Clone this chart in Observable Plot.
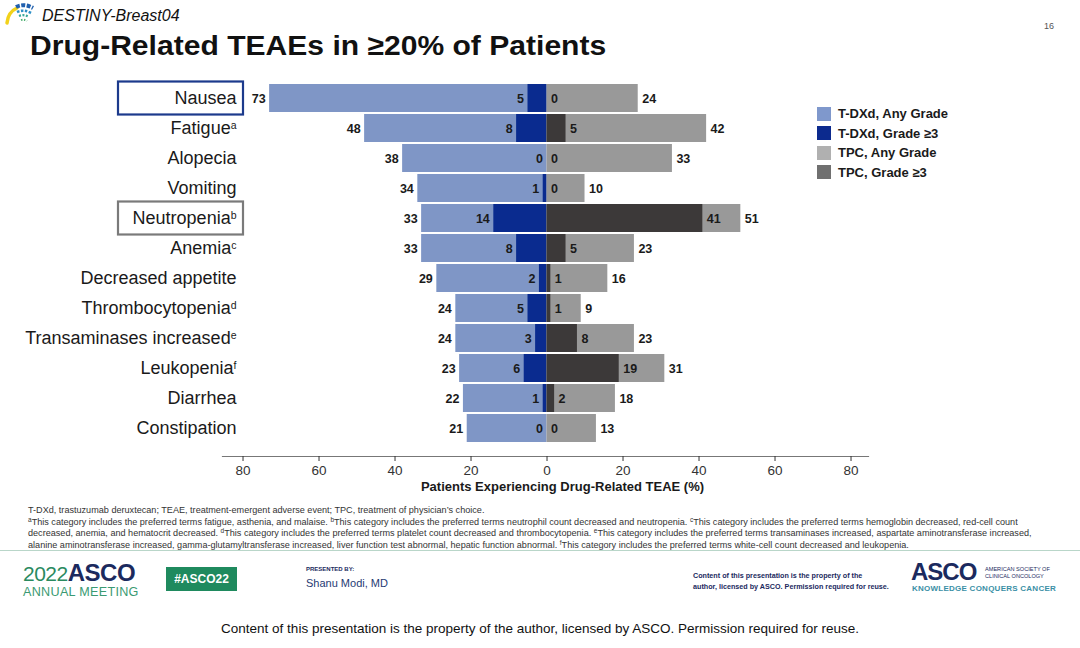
<!DOCTYPE html>
<html><head><meta charset="utf-8">
<script src="https://cdn.jsdelivr.net/npm/d3@7"></script>
<script src="https://cdn.jsdelivr.net/npm/@observablehq/plot@0.6"></script>
<style>
body{margin:0;background:#fff;font-family:"Liberation Sans",Arial,sans-serif;}
#page{position:relative;width:1080px;height:648px;overflow:hidden;background:#fff;}
.abs{position:absolute;white-space:nowrap;line-height:1;}
#chart{position:absolute;left:0;top:70px;}
.fn{position:absolute;left:28px;white-space:nowrap;font-size:9.1px;color:#333;line-height:1;}
.fn sup{font-size:6.5px;vertical-align:3px;line-height:0;}
.lg{position:absolute;left:817px;display:flex;align-items:center;font-weight:bold;font-size:13px;color:#1a1a1a;}
.lg span.sw{display:inline-block;width:14px;height:14px;margin-right:7px;}
</style></head><body><div id="page">

<svg class="abs" style="left:4px;top:3px" width="34" height="22" viewBox="0 0 34 22">
  <path d="M3 20 Q4 9 13 5" stroke="#f2d21b" stroke-width="3.5" fill="none" stroke-linecap="round"/>
  <path d="M12 4 Q20 0 29 5" stroke="#1f5fae" stroke-width="4" fill="none" stroke-dasharray="4 1.5"/>
  <path d="M13 9 Q20 6 27 10" stroke="#2d8fc7" stroke-width="2.6" fill="none" stroke-dasharray="2.5 1.5"/>
  <path d="M15 13 Q20 11 25 14" stroke="#37a89a" stroke-width="2.2" fill="none" stroke-dasharray="2 1.5"/>
  <path d="M17 17 Q20 16 23 18" stroke="#4bb071" stroke-width="2" fill="none" stroke-dasharray="1.5 1.5"/>
</svg>
<div class="abs" style="left:42px;top:8px;font-size:16px;font-style:italic;color:#111;">DESTINY-Breast04</div>
<div class="abs" style="left:30px;top:31px;font-size:28.5px;font-weight:bold;color:#111;transform:scaleX(1.055);transform-origin:0 0;">Drug-Related TEAEs in ≥20% of Patients</div>
<div class="abs" style="left:1044px;top:22px;font-size:9px;color:#555;">16</div>

<div id="chart"></div>

<div class="lg" style="top:106px"><span class="sw" style="background:#7f98cc"></span>T-DXd, Any Grade</div>
<div class="lg" style="top:125.5px"><span class="sw" style="background:#0c2a8e"></span>T-DXd, Grade ≥3</div>
<div class="lg" style="top:145px"><span class="sw" style="background:#b0b0b0"></span>TPC, Any Grade</div>
<div class="lg" style="top:164.5px"><span class="sw" style="background:#707070"></span>TPC, Grade ≥3</div>

<div class="fn" style="top:505.5px">T-DXd, trastuzumab deruxtecan; TEAE, treatment-emergent adverse event; TPC, treatment of physician’s choice.</div>
<div class="fn" style="top:517.5px"><sup>a</sup>This category includes the preferred terms fatigue, asthenia, and malaise. <sup>b</sup>This category includes the preferred terms neutrophil count decreased and neutropenia. <sup>c</sup>This category includes the preferred terms hemoglobin decreased, red-cell count</div>
<div class="fn" style="top:529px">decreased, anemia, and hematocrit decreased. <sup>d</sup>This category includes the preferred terms platelet count decreased and thrombocytopenia. <sup>e</sup>This category includes the preferred terms transaminases increased, aspartate aminotransferase increased,</div>
<div class="fn" style="top:540.5px">alanine aminotransferase increased, gamma-glutamyltransferase increased, liver function test abnormal, hepatic function abnormal. <sup>f</sup>This category includes the preferred terms white-cell count decreased and leukopenia.</div>

<div class="abs" style="left:0;top:549.5px;width:1080px;height:1.5px;background:#b9d6c9;"></div>

<div class="abs" style="left:23px;top:561px;line-height:24px;height:24px;"><span style="color:#2a8a5f;letter-spacing:-0.5px;font-size:21px">2022</span><span style="color:#1b2a5e;font-weight:bold;letter-spacing:-0.5px;font-size:24px">ASCO</span></div>
<div class="abs" style="left:23px;top:586px;font-size:12.6px;color:#3a9a72;letter-spacing:0.3px">ANNUAL MEETING</div>
<div class="abs" style="left:166px;top:567px;width:71px;height:24px;background:#1f8a5e;color:#fff;font-weight:bold;font-size:12px;display:flex;align-items:center;justify-content:center;">#ASCO22</div>
<div class="abs" style="left:306px;top:566px;font-size:6px;font-weight:bold;color:#1b2a5e;">PRESENTED BY:</div>
<div class="abs" style="left:306px;top:578px;font-size:11px;color:#1f3b73;">Shanu Modi, MD</div>
<div class="abs" style="left:693px;top:571px;font-size:7.2px;font-weight:bold;color:#1b2a5e;line-height:10.5px;">Content of this presentation is the property of the<br>author, licensed by ASCO. Permission required for reuse.</div>
<div class="abs" style="left:911px;top:560px;font-size:24px;font-weight:bold;color:#1b2a5e;letter-spacing:-1px;">ASCO</div>
<div class="abs" style="left:985px;top:566px;font-size:5.6px;color:#1b2a5e;line-height:7px;">AMERICAN SOCIETY OF<br>CLINICAL ONCOLOGY</div>
<div class="abs" style="left:912px;top:585px;font-size:8px;font-weight:bold;color:#3a8fa5;letter-spacing:0.25px;">KNOWLEDGE CONQUERS CANCER</div>

<div class="abs" style="left:0;width:1080px;text-align:center;top:622px;font-size:13.5px;color:#111;">Content of this presentation is the property of the author, licensed by ASCO. Permission required for reuse.</div>

</div>
<script>
const categories = ["Nausea","Fatigue","Alopecia","Vomiting","Neutropenia","Anemia","Decreased appetite","Thrombocytopenia","Transaminases increased","Leukopenia","Diarrhea","Constipation"];
const footnoteMarks = ["","a","","","b","c","","d","e","f","",""];
const tdxdAny = [73,48,38,34,33,33,29,24,24,23,22,21];
const tdxdG3  = [5,8,0,1,14,8,2,5,3,6,1,0];
const tpcAny  = [24,42,33,10,51,23,16,9,23,31,18,13];
const tpcG3   = [0,5,0,0,41,5,1,1,8,19,2,0];
const xTicks  = [-80,-60,-40,-20,0,20,40,60,80];
const highlighted = ["Nausea","Neutropenia"];
const highlightColors = ["#1c3a8c","#7a7a7a"];
const axisTitle = "Patients Experiencing Drug-Related TEAE (%)";

const rows = categories.map((c,i)=>({cat:c, tdxdAny:tdxdAny[i], tdxdG3:tdxdG3[i], tpcAny:tpcAny[i], tpcG3:tpcG3[i]}));
const boxes = highlighted.map((c,i)=>({cat:c, color:highlightColors[i]}));

const lab = {fontWeight:"bold", fontSize:12.5, fill:"#1a1a1a"};
const chart = Plot.plot({
  width:1080, height:430,
  marginLeft:222, marginRight:212, marginTop:9.75, marginBottom:44,
  x:{domain:[-85.4,84.6]},
  y:{domain:categories, range:[9.75,376.25], padding:0.07},
  style:{fontFamily:"Liberation Sans, Arial, sans-serif", background:"transparent", color:"#1a1a1a"},
  marks:[
    Plot.barX(rows,{y:"cat", x:d=>-d.tdxdAny, fill:"#7f96c6"}),
    Plot.barX(rows,{y:"cat", x:d=>-d.tdxdG3, fill:"#0a2b8f"}),
    Plot.barX(rows,{y:"cat", x:"tpcAny", fill:"#999999"}),
    Plot.barX(rows,{y:"cat", x:"tpcG3", fill:"#3c3939"}),
    Plot.text(rows,{y:"cat", x:d=>-d.tdxdAny, text:"tdxdAny", textAnchor:"end", dx:-4, ...lab}),
    Plot.text(rows,{y:"cat", x:d=>-d.tdxdG3, text:"tdxdG3", textAnchor:"end", dx:-4, ...lab}),
    Plot.text(rows,{y:"cat", x:"tpcG3", text:"tpcG3", textAnchor:"start", dx:4, ...lab}),
    Plot.text(rows,{y:"cat", x:"tpcAny", text:"tpcAny", textAnchor:"start", dx:4, ...lab}),
    Plot.cell(boxes,{y:"cat", fill:"white", fillOpacity:0, stroke:"color", strokeWidth:2.2, insetLeft:-104, insetRight:625, insetTop:-2.5, insetBottom:-2.5}),
    Plot.frame({anchor:"bottom", stroke:"#777", strokeWidth:1.2}),
    Plot.axisX({ticks:xTicks, tickFormat:d=>Math.abs(d), tickSize:5, tickPadding:4, fontSize:13.5, color:"#333", label:null}),
    Plot.axisY({tickSize:0, tickPadding:0, dx:14, fontSize:18, label:null, color:"#1a1a1a"}),
    Plot.text([axisTitle],{frameAnchor:"bottom", dy:34, dx:17, fontWeight:"bold", fontSize:13, fill:"#1a1a1a"})
  ]
});
document.getElementById("chart").appendChild(chart);
// superscript footnote letters on category labels
chart.querySelectorAll('g[aria-label="y-axis tick label"] text').forEach(t=>{
  const i = categories.indexOf(t.textContent);
  if (i>=0 && footnoteMarks[i]) {
    const s = document.createElementNS("http://www.w3.org/2000/svg","tspan");
    s.setAttribute("font-size","10.5");
    s.setAttribute("dy","-0.55em");
    s.textContent = footnoteMarks[i];
    t.appendChild(s);
  }
});
</script>
</body></html>
